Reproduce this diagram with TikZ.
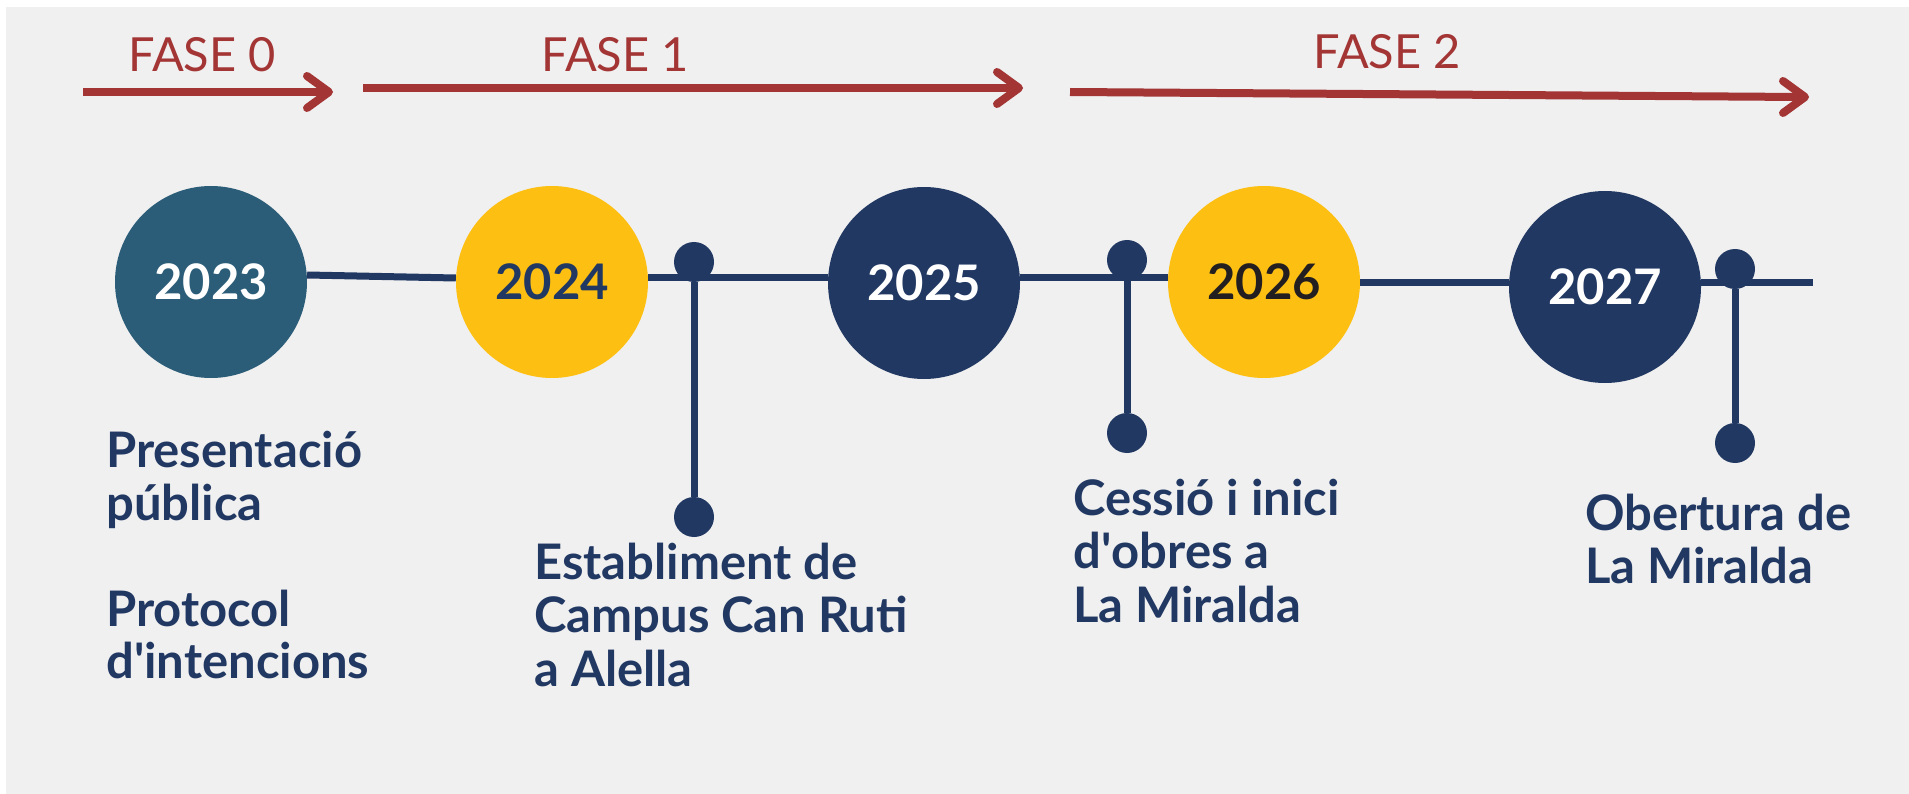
\documentclass[tikz,border=0pt]{standalone}
\usepackage{fontspec}
\setmainfont{Lato}
\definecolor{navy}{HTML}{213863}
\definecolor{teal}{HTML}{2B5D78}
\definecolor{gold}{HTML}{FDBF11}
\definecolor{fred}{HTML}{A33535}
\definecolor{bggray}{HTML}{F0F0F0}
\definecolor{ink}{HTML}{231F20}
\begin{document}
\begin{tikzpicture}[x=1pt,y=-1pt,
  year/.style={circle, minimum size=192pt, inner sep=0pt, font=\fontsize{49}{49}\selectfont\bfseries},
  tl/.style={draw=navy, line width=7pt},
  dot/.style={circle, fill=navy, minimum size=40pt, inner sep=0pt},
  lbl/.style={anchor=base west, inner sep=0pt, text=navy, font=\fontsize{49}{53}\selectfont\bfseries},
  fase/.style={anchor=base, inner sep=0pt, text=fred, font=\fontsize{47}{47}\selectfont},
  phase/.style={draw=fred, line width=8pt},
  chev/.style={draw=fred, line width=8pt, line cap=round, line join=round}]
\useasboundingbox (0,0) rectangle (1909,794);
\fill[white] (0,0) rectangle (1909,794);
\fill[bggray] (6,7) rectangle (1909,794);

% phase arrows
\coordinate (f0a) at (83,92);   \coordinate (f0b) at (329,92);
\coordinate (f1a) at (363,88);  \coordinate (f1b) at (1019,88);
\coordinate (f2a) at (1070,92); \coordinate (f2b) at (1805,97);
\draw[phase] (f0a) -- ([xshift=-4pt]f0b);
\draw[chev] ([shift={(-22,-16)}]f0b) -- (f0b) -- ([shift={(-22,16)}]f0b);
\draw[phase] (f1a) -- ([xshift=-4pt]f1b);
\draw[chev] ([shift={(-22,-16)}]f1b) -- (f1b) -- ([shift={(-22,16)}]f1b);
\draw[phase] (f2a) -- ([xshift=-4pt]f2b);
\draw[chev] ([shift={(-22,-16)}]f2b) -- (f2b) -- ([shift={(-22,16)}]f2b);
\node[fase] (t0) at (202,72) {FASE 0};
\node[fase] (t1) at (615,72) {FASE 1};
\node[fase] (t2) at (1387,69) {FASE 2};

% year circles
\node[year, fill=teal, text=white] (c1) at (211,282) {2023};
\node[year, fill=gold, text=navy]  (c2) at (552,282) {2024};
\node[year, fill=navy, text=white] (c3) at (924,283) {2025};
\node[year, fill=gold, text=ink]   (c4) at (1264,282) {2026};
\node[year, fill=navy, text=white] (c5) at (1605,287) {2027};
\coordinate (tlend) at (1813,283);

% timeline
\draw[tl] ([yshift=7pt]c1.east) -- ([yshift=4pt]c2.west);
\draw[tl] ([yshift=4pt]c2.east) -- ([yshift=5pt]c3.west);
\draw[tl] ([yshift=5pt]c3.east) -- ([yshift=4pt]c4.west);
\draw[tl] ([yshift=-1pt]c4.east) -- ([yshift=4pt]c5.west);
\draw[tl] ([yshift=4pt]c5.east) -- (tlend);

% pins
\node[dot] (p1t) at (694,262) {};
\node[dot] (p1b) at (694,517) {};
\node[dot] (p2t) at (1127,260) {};
\node[dot] (p2b) at (1127,433) {};
\node[dot] (p3t) at (1735,269) {};
\node[dot] (p3b) at (1735,443) {};
\draw[tl] (p1t) -- (p1b);
\draw[tl] (p2t) -- (p2b);
\draw[tl] (p3t) -- (p3b);

% labels
\node[lbl] (l1a) at (106,467) {Presentació};
\node[lbl] (l1b) at (106,520) {pública};
\node[lbl] (l1c) at (106,626) {Protocol};
\node[lbl] (l1d) at (106,678) {d\textquotesingle intencions};
\node[lbl] (l2a) at (534,579) {Establiment de};
\node[lbl] (l2b) at (534,632) {Campus Can Ruti};
\node[lbl] (l2c) at (534,686) {a Alella};
\node[lbl] (l3a) at (1073,515) {Cessió i inici};
\node[lbl] (l3b) at (1073,568) {d\textquotesingle obres a};
\node[lbl] (l3c) at (1073,622) {La Miralda};
\node[lbl] (l4a) at (1585,530) {Obertura de};
\node[lbl] (l4b) at (1585,583) {La Miralda};
\end{tikzpicture}
\end{document}
